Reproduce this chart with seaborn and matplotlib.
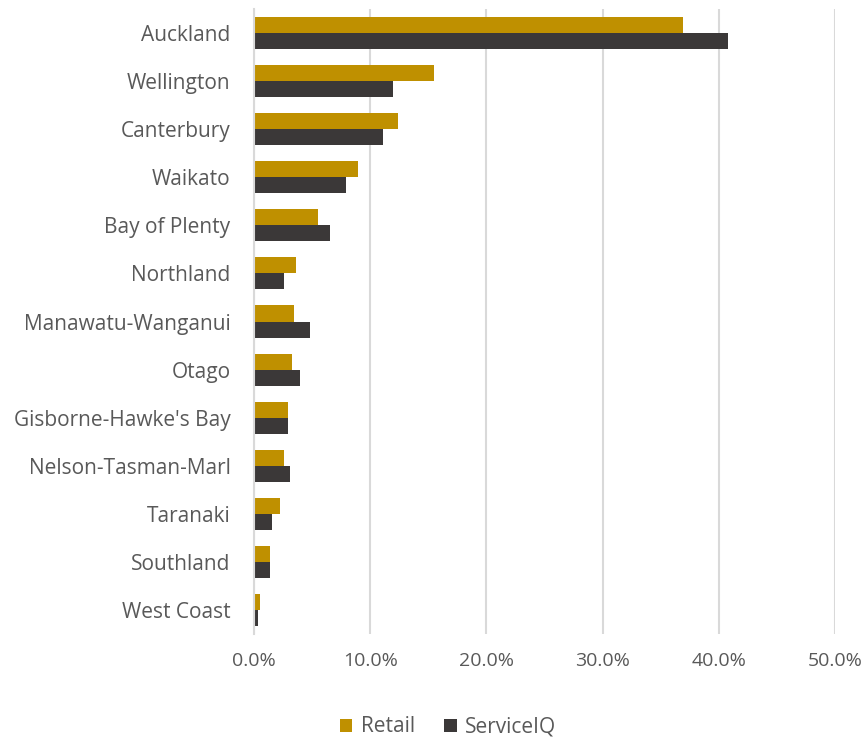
import matplotlib
matplotlib.use("Agg")
import matplotlib.pyplot as plt
from matplotlib.ticker import FuncFormatter
from matplotlib.patches import Patch
import seaborn as sns
import pandas as pd

regions = [
    "Auckland", "Wellington", "Canterbury", "Waikato", "Bay of Plenty",
    "Northland", "Manawatu-Wanganui", "Otago", "Gisborne-Hawke's Bay",
    "Nelson-Tasman-Marl", "Taranaki", "Southland", "West Coast",
]
retail = [36.9, 15.45, 12.35, 8.93, 5.49, 3.57, 3.4, 3.23, 2.91, 2.57, 2.22, 1.36, 0.5]
serviceiq = [40.75, 12.0, 11.14, 7.9, 6.52, 2.57, 4.8, 3.94, 2.91, 3.08, 1.53, 1.36, 0.33]
series = ["Retail", "ServiceIQ"]
colors = ["#BF9000", "#3B3838"]
x_ticks = [0, 10, 20, 30, 40, 50]

df = pd.DataFrame({
    "Region": regions * 2,
    "Share": retail + serviceiq,
    "Series": [series[0]] * len(regions) + [series[1]] * len(regions),
})

sns.set_theme(style="white")
plt.rcParams["font.family"] = ["Open Sans", "DejaVu Sans"]
text_color = "#595959"

fig = plt.figure(figsize=(8.62, 7.4), dpi=100)
ax = fig.add_axes([0.2947, 0.1432, 0.674, 0.8446])

sns.barplot(
    data=df, y="Region", x="Share", hue="Series", order=regions,
    hue_order=series, palette=colors, orient="h", width=0.667,
    saturation=1, ax=ax, legend=False, edgecolor="none",
)

ax.set_xlim(0, 50)
ax.set_xticks(x_ticks)
ax.xaxis.set_major_formatter(FuncFormatter(lambda v, p: f"{v:.1f}%"))
ax.grid(axis="x", color="#D9D9D9", linewidth=1.5)
ax.set_axisbelow(True)
for side in ["top", "right", "bottom"]:
    ax.spines[side].set_visible(False)
ax.spines["left"].set_color("#D9D9D9")
ax.spines["left"].set_linewidth(1.5)
ax.set_xlabel("")
ax.set_ylabel("")
ax.tick_params(axis="both", length=0, labelcolor=text_color)
ax.tick_params(axis="x", pad=13, labelsize=14)
ax.tick_params(axis="y", pad=17, labelsize=15)

handles = [Patch(facecolor=c, edgecolor="none") for c in colors]
fig.legend(
    handles, series, loc="center", bbox_to_anchor=(448 / 862, 1 - 727 / 740),
    ncol=2, frameon=False, fontsize=15, labelcolor=text_color,
    handlelength=0.6, handleheight=0.6, handletextpad=0.4, columnspacing=1.4,
)

fig.savefig("out.png", dpi=100)
